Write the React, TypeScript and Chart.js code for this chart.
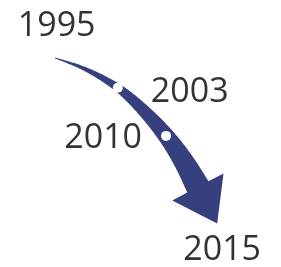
import { useEffect, useRef } from "react";
import { Chart, registerables } from "chart.js";

Chart.register(...registerables);

// Timeline milestones
const years = ["1995", "2003", "2010", "2015"];
// Centerline of the timeline arrow in chart units (x: 0–281, y: 0–267 top-down)
const pathX = [52, 84, 117, 144, 167, 185, 200, 220];
const pathY = [55, 67, 86, 110, 136, 162, 189, 227];
// Which centerline point each year sits on
const milestoneAt = [0, 2, 4, 7];
// Whether a year is marked with a dot on the arrow
const showDot = [false, true, true, false];

const ARROW_COLOR = "#37407f";
const TEXT_COLOR = "#333333";

type Pt = { x: number; y: number };

const arrowPlugin = {
  id: "timelineArrow",
  beforeDatasetsDraw(chart: any, _args: any, opts: any) {
    const xs = chart.scales.x;
    const ys = chart.scales.y;
    const pts: Pt[] = pathX.map((x, i) => ({
      x: xs.getPixelForValue(x),
      y: ys.getPixelForValue(pathY[i]),
    }));
    const n = pts.length;
    const neckIdx = n - 2;
    const tip = pts[n - 1];
    const neck = pts[neckIdx];

    const samples: Pt[] = [];
    const steps = 24;
    for (let i = 0; i < neckIdx; i++) {
      const p0 = pts[Math.max(0, i - 1)];
      const p1 = pts[i];
      const p2 = pts[i + 1];
      const p3 = pts[Math.min(n - 1, i + 2)];
      for (let k = 0; k < steps; k++) {
        const t = k / steps;
        const t2 = t * t;
        const t3 = t2 * t;
        const f = (a: number, b: number, c: number, d: number) =>
          0.5 *
          (2 * b +
            (-a + c) * t +
            (2 * a - 5 * b + 4 * c - d) * t2 +
            (-a + 3 * b - 3 * c + d) * t3);
        samples.push({ x: f(p0.x, p1.x, p2.x, p3.x), y: f(p0.y, p1.y, p2.y, p3.y) });
      }
    }
    samples.push(neck);

    const cum: number[] = [0];
    for (let i = 1; i < samples.length; i++) {
      cum.push(cum[i - 1] + Math.hypot(samples[i].x - samples[i - 1].x, samples[i].y - samples[i - 1].y));
    }
    const L = cum[cum.length - 1];
    const w0 = opts.tailHalfWidth;
    const w1 = opts.neckHalfWidth;

    const left: Pt[] = [];
    const right: Pt[] = [];
    for (let i = 0; i < samples.length; i++) {
      const a = samples[Math.max(0, i - 1)];
      const b = i === samples.length - 1 ? tip : samples[Math.min(samples.length - 1, i + 1)];
      let tx = b.x - a.x;
      let ty = b.y - a.y;
      const len = Math.hypot(tx, ty) || 1;
      tx /= len;
      ty /= len;
      const nx = -ty;
      const ny = tx;
      const w = w0 + (w1 - w0) * Math.pow(cum[i] / L, 1.1);
      left.push({ x: samples[i].x + nx * w, y: samples[i].y + ny * w });
      right.push({ x: samples[i].x - nx * w, y: samples[i].y - ny * w });
    }

    let dx = tip.x - neck.x;
    let dy = tip.y - neck.y;
    const dl = Math.hypot(dx, dy) || 1;
    dx /= dl;
    dy /= dl;
    const hx = -dy;
    const hy = dx;
    const bw = opts.barbHalfWidth;

    const ctx = chart.ctx;
    ctx.save();
    ctx.beginPath();
    ctx.moveTo(left[0].x, left[0].y);
    for (let i = 1; i < left.length; i++) ctx.lineTo(left[i].x, left[i].y);
    ctx.lineTo(neck.x + hx * bw, neck.y + hy * bw);
    ctx.lineTo(tip.x, tip.y);
    ctx.lineTo(neck.x - hx * bw, neck.y - hy * bw);
    for (let i = right.length - 1; i >= 0; i--) ctx.lineTo(right[i].x, right[i].y);
    ctx.closePath();
    ctx.fillStyle = opts.color;
    ctx.fill();
    ctx.restore();
  },
};

const labelPlugin = {
  id: "yearLabels",
  afterDatasetsDraw(chart: any, _args: any, opts: any) {
    const meta = chart.getDatasetMeta(0);
    const ctx = chart.ctx;
    ctx.save();
    ctx.font = opts.font;
    ctx.fillStyle = opts.color;
    ctx.textBaseline = "alphabetic";
    meta.data.forEach((el: any, i: number) => {
      const p = opts.placement[i];
      ctx.textAlign = p.align;
      ctx.fillText(years[i], el.x + p.dx, el.y + p.dy);
    });
    ctx.restore();
  },
};

export default function App() {
  const ref = useRef<HTMLCanvasElement | null>(null);

  useEffect(() => {
    document.body.style.margin = "0";
    if (!ref.current) return;
    const chart = new Chart(ref.current, {
      type: "scatter",
      data: {
        labels: years,
        datasets: [
          {
            data: milestoneAt.map((idx) => ({ x: pathX[idx], y: pathY[idx] })),
            pointRadius: showDot.map((d) => (d ? 5 : 0)),
            pointHoverRadius: showDot.map((d) => (d ? 5 : 0)),
            backgroundColor: "#ffffff",
            borderWidth: 0,
          },
        ],
      },
      options: {
        animation: false,
        responsive: true,
        maintainAspectRatio: false,
        layout: { padding: 0 },
        scales: {
          x: { type: "linear", min: 0, max: 281, display: false },
          y: { type: "linear", min: 0, max: 267, reverse: true, display: false },
        },
        plugins: {
          legend: { display: false },
          tooltip: { enabled: false },
          timelineArrow: {
            color: ARROW_COLOR,
            tailHalfWidth: 0.5,
            neckHalfWidth: 12,
            barbHalfWidth: 29,
          },
          yearLabels: {
            font: '34px "Open Sans"',
            color: TEXT_COLOR,
            placement: [
              { dx: 1.5, dy: -22, align: "center" },
              { dx: 33, dy: 14, align: "left" },
              { dx: -24, dy: 12, align: "right" },
              { dx: 5, dy: 37, align: "center" },
            ],
          },
        } as any,
      },
      plugins: [arrowPlugin, labelPlugin],
    });
    return () => chart.destroy();
  }, []);

  return (
    <div style={{ width: 281, height: 267, position: "relative" }}>
      <canvas ref={ref} />
    </div>
  );
}
